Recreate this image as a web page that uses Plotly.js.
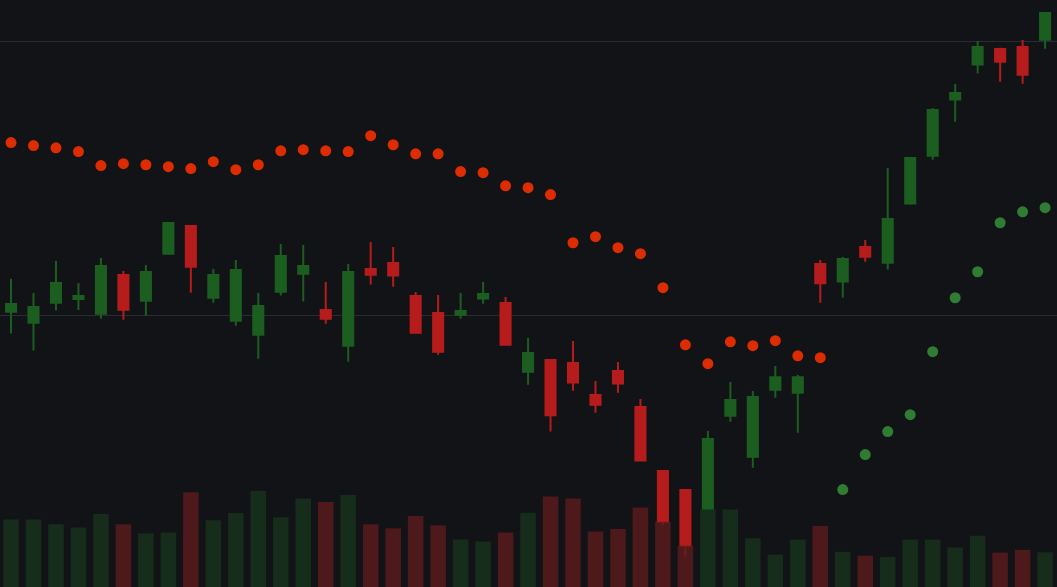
<!DOCTYPE html>
<html>
<head>
<meta charset="utf-8">
<script src="https://cdn.plot.ly/plotly-3.0.1.min.js"></script>
<style>html,body{margin:0;padding:0;background:#121317;}#chart{width:1057px;height:587px;}</style>
</head>
<body>
<div id="chart"></div>
<script>
var days = [];
for (var i = 0; i < 47; i++) days.push(i);

var openP  = [100.12, 99.72,100.45,100.58,100.05,101.46,100.52,102.24,103.25,100.63,
               99.79, 99.28,100.85,101.51,100.18, 98.88,101.68,101.90,100.69,100.07,
              100.01,100.60,100.44, 97.93, 98.36, 98.25, 97.08, 97.95, 96.64, 94.30,
               93.61, 92.90, 96.32, 94.82, 97.27, 97.16,101.86,101.22,102.48,101.91,
              104.07,105.82,107.87,109.15,109.72,109.79,110.06];
var highP  = [101.32,100.80,101.97,101.17,102.08,101.61,101.83,103.38,103.27,101.68,
              102.01,100.80,102.59,102.56,101.21,101.86,102.67,102.48,100.84,100.73,
              100.80,101.21,100.66, 99.16, 98.37, 99.05, 97.59, 98.28, 96.93, 94.31,
               93.64, 95.76, 97.55, 97.22, 98.14, 97.81,102.01,102.12,102.74,105.37,
              105.75,107.56,108.44,110.01,109.76,110.05,111.07];
var lowP   = [ 99.32, 98.70,100.16,100.18, 99.86, 99.83, 99.97,102.22,100.81,100.45,
               99.61, 98.40,100.71,100.49, 99.68, 98.29,101.11,101.03, 99.34, 98.55,
               99.86,100.41, 98.90, 97.45, 95.74, 97.23, 96.43, 97.16, 94.67, 92.34,
               91.17, 92.89, 96.10, 94.42, 96.98, 95.70,100.45,100.63,101.95,101.66,
              104.03,105.67,107.06,108.82,108.52,108.45,109.73];
var closeP = [100.40,100.29,101.17,100.69,101.79,100.19,101.57,103.36,101.76,101.46,
              101.64,100.33,102.16,101.79, 99.86,101.57,101.47,101.44, 99.35, 98.66,
              100.15,100.77, 98.91, 98.61, 96.34, 97.53, 96.72, 97.50, 94.68, 92.45,
               91.57, 95.47, 96.89, 97.00, 97.73, 97.73,101.16,102.05,102.13,103.51,
              105.74,107.49,108.11,109.79,109.25,108.78,111.03];
var sar    = [106.30,106.19,106.11,105.97,105.46,105.53,105.49,105.42,105.35,105.60,
              105.31,105.49,106.00,106.04,106.00,105.97,106.55,106.22,105.89,105.89,
              105.24,105.20,104.72,104.65,104.40,102.64,102.86,102.46,102.24,101.00,
               98.91, 98.22, 99.02, 98.88, 99.06, 98.51, 98.44, 93.62, 94.90, 95.74,
               96.36, 98.66,100.63,101.58,103.37,103.77,103.92];
// SAR trend: 'D' = downtrend (dot above price), 'U' = uptrend (dot below price)
var sarTrend = ['D','D','D','D','D','D','D','D','D','D',
                'D','D','D','D','D','D','D','D','D','D',
                'D','D','D','D','D','D','D','D','D','D',
                'D','D','D','D','D','D','D','U','U','U',
                'U','U','U','U','U','U','U'];
var volume = [67500,67500,62700,59400,72900,62700,53600,54600,94800,66800,
              73900,95900,69800,88400,85000,92100,62700,58700,70900,61700,
              47500,45500,54600,74200,90600,88500,55600,58000,79600,65300,
              41300,77700,77500,48800,32300,47400,61100,35100,31300,30000,
              47400,47400,39500,51200,34400,37100,34700];

var UP = '#1b5e20', DOWN = '#b71c1c';
var volColors = closeP.map(function (c, i) {
  return c >= openP[i] ? 'rgba(23,52,28,0.78)' : 'rgba(95,27,28,0.78)';
});
var sarColors = sarTrend.map(function (t) {
  return t === 'D' ? '#dd2c00' : '#2e7d32';
});

var traces = [
  {
    type: 'candlestick', x: days, open: openP, high: highP, low: lowP, close: closeP,
    increasing: {line: {color: UP, width: 2}, fillcolor: UP},
    decreasing: {line: {color: DOWN, width: 2}, fillcolor: DOWN},
    whiskerwidth: 0, hoverinfo: 'none', xaxis: 'x', yaxis: 'y'
  },
  {
    type: 'scatter', mode: 'markers', x: days, y: sar,
    marker: {size: 11, color: sarColors, line: {width: 0}},
    hoverinfo: 'none', xaxis: 'x', yaxis: 'y'
  },
  {
    type: 'bar', x: days, y: volume, width: 0.69,
    marker: {color: volColors, line: {width: 0}},
    hoverinfo: 'none', xaxis: 'x', yaxis: 'y2'
  }
];

var layout = {
  width: 1057, height: 587,
  margin: {l: 0, r: 0, t: 0, b: 0, pad: 0},
  paper_bgcolor: '#121317', plot_bgcolor: '#121317',
  showlegend: false,
  boxgap: 0.36,
  xaxis: {range: [-0.49, 46.53], showgrid: false, zeroline: false, showticklabels: false,
          ticks: '', showline: false, rangeslider: {visible: false}, fixedrange: true},
  yaxis: {range: [90.062, 111.509], tick0: 0, dtick: 10, showgrid: true,
          gridcolor: '#2b2c31', gridwidth: 1, zeroline: false, showticklabels: false,
          ticks: '', showline: false, fixedrange: true},
  yaxis2: {range: [0, 587000], overlaying: 'y', side: 'right', showgrid: false,
           zeroline: false, showticklabels: false, ticks: '', showline: false, fixedrange: true}
};

Plotly.newPlot('chart', traces, layout, {displayModeBar: false, staticPlot: true});
</script>
</body>
</html>
